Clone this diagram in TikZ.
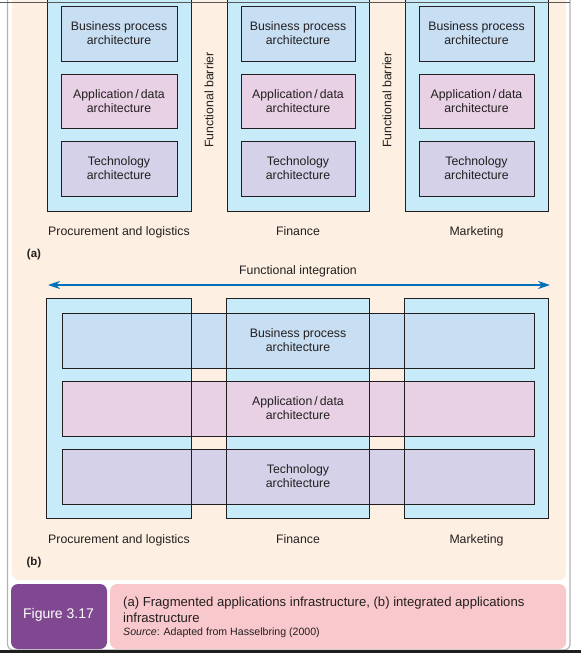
\documentclass[tikz,border=0pt]{standalone}
\usepackage{fontspec}
\setmainfont{Liberation Sans}
\usetikzlibrary{arrows.meta}
\definecolor{cream}{HTML}{FDF0E2}
\definecolor{outerblue}{HTML}{C8EBFA}
\definecolor{bizblue}{HTML}{C7DEF3}
\definecolor{appmauve}{HTML}{E8D0E5}
\definecolor{techlav}{HTML}{D4D1E8}
\definecolor{figpurple}{HTML}{7F4890}
\definecolor{cappink}{HTML}{F9C8CC}
\definecolor{arrowblue}{HTML}{0070BB}
\definecolor{ink}{HTML}{231F20}
\definecolor{framegray}{HTML}{B4B4B4}
\begin{document}
\begin{tikzpicture}[x=1pt,y=-1pt,
  txt/.style={font=\fontsize{12.3}{14}\selectfont, text=ink, align=center, inner sep=0pt},
  collabel/.style={txt, anchor=base},
  outerbox/.style={fill=outerblue, draw=ink, line width=0.9pt, inner sep=0pt},
  outerfill/.style={fill=outerblue, inner sep=0pt},
  layerbox/.style={draw=ink, line width=0.9pt, inner sep=0pt, txt},
  bizbox/.style={layerbox, fill=bizblue},
  appbox/.style={layerbox, fill=appmauve},
  techbox/.style={layerbox, fill=techlav},
  panellabel/.style={font=\bfseries\fontsize{11.5}{13}\selectfont, text=ink, inner sep=0pt},
  barrier/.style={txt, rotate=90},
  intarrow/.style={draw=arrowblue, line width=1.6pt, {Stealth[length=12pt,width=8pt]}-{Stealth[length=12pt,width=8pt]}}
]
\useasboundingbox (0,0) rectangle (581,653);
\fill[white] (0,0) rectangle (581,653);
% frame
\draw[framegray, line width=1.2pt, rounded corners=6pt] (7.5,0) -- (7.5,650) -- (570,650) -- (570,0);
\fill[black!88] (0,650) rectangle (581,653);
% cream panel
\fill[cream, rounded corners=7pt] (12,-10) rectangle (566,580);
\fill[cream] (12,-10) rectangle (566,20);

% ---------- panel (a) ----------
\node[outerbox, minimum width=144pt, minimum height=216pt] (a1) at (119,103) {};
\node[outerbox, minimum width=142pt, minimum height=216pt] (a2) at (298,103) {};
\node[outerbox, minimum width=143pt, minimum height=216pt] (a3) at (476.5,103) {};
\draw[black!65, line width=1pt] (0,2.5) -- (570,2.5);

\node[bizbox, minimum width=116pt, minimum height=55pt] (a1b) at (119,33.5) {Business process\\architecture};
\node[appbox, minimum width=116pt, minimum height=54pt] (a1a) at (119,101) {Application\,/\,data\\architecture};
\node[techbox, minimum width=116pt, minimum height=55pt] (a1t) at (119,168.5) {Technology\\architecture};

\node[bizbox, minimum width=114pt, minimum height=55pt] (a2b) at (298,33.5) {Business process\\architecture};
\node[appbox, minimum width=114pt, minimum height=54pt] (a2a) at (298,101) {Application\,/\,data\\architecture};
\node[techbox, minimum width=114pt, minimum height=55pt] (a2t) at (298,168.5) {Technology\\architecture};

\node[bizbox, minimum width=115pt, minimum height=55pt] (a3b) at (476.5,33.5) {Business process\\architecture};
\node[appbox, minimum width=115pt, minimum height=54pt] (a3a) at (476.5,101) {Application\,/\,data\\architecture};
\node[techbox, minimum width=115pt, minimum height=55pt] (a3t) at (476.5,168.5) {Technology\\architecture};

\node[barrier] (fb1) at (209,100) {Functional barrier};
\node[barrier] (fb2) at (387,100) {Functional barrier};

\node[collabel] (la1) at (119,235.5) {Procurement and logistics};
\node[collabel] (la2) at (298,235.5) {Finance};
\node[collabel] (la3) at (476.5,235.5) {Marketing};
\node[panellabel] (pa) at (34,255) {(a)};

% ---------- panel (b) ----------
\node[txt] (fi) at (298,271.5) {Functional integration};
\coordinate (arrL) at (48,285);
\coordinate (arrR) at (550,285);
\draw[intarrow] (arrL) -- (arrR);

\node[outerfill, minimum width=144pt, minimum height=219pt] (b1) at (119,408.5) {};
\node[outerfill, minimum width=142pt, minimum height=219pt] (b2) at (298,408.5) {};
\node[outerfill, minimum width=143pt, minimum height=219pt] (b3) at (476.5,408.5) {};

\node[bizbox, minimum width=472pt, minimum height=55pt] (sb) at (298,340.5) {Business process\\architecture};
\node[appbox, minimum width=472pt, minimum height=55pt] (sa) at (298,408.5) {Application\,/\,data\\architecture};
\node[techbox, minimum width=472pt, minimum height=55pt] (st) at (298,476.5) {Technology\\architecture};

\draw[ink, line width=0.9pt] (b1.north west) rectangle (b1.south east);
\draw[ink, line width=0.9pt] (b2.north west) rectangle (b2.south east);
\draw[ink, line width=0.9pt] (b3.north west) rectangle (b3.south east);

\node[collabel] (lb1) at (119,543.5) {Procurement and logistics};
\node[collabel] (lb2) at (298,543.5) {Finance};
\node[collabel] (lb3) at (476.5,543.5) {Marketing};
\node[panellabel] (pb) at (34,563) {(b)};

% ---------- caption ----------
\fill[figpurple, rounded corners=7pt] (11,584) rectangle (107,649);
\node[font=\fontsize{14}{16}\selectfont, text=white, inner sep=0pt] (fig) at (58.5,615) {Figure 3.17};
\fill[cappink, rounded corners=7pt] (110,584) rectangle (566,649);
\node[anchor=west, inner sep=0pt, text=ink, align=left, font=\fontsize{13.1}{15.5}\selectfont] (cap) at (123,610)
  {(a) Fragmented applications infrastructure, (b) integrated applications\\infrastructure};
\node[anchor=west, inner sep=0pt, text=ink, font=\fontsize{10.6}{12}\selectfont] (src) at (123,633)
  {\textit{Source}: Adapted from Hasselbring (2000)};
\end{tikzpicture}
\end{document}
